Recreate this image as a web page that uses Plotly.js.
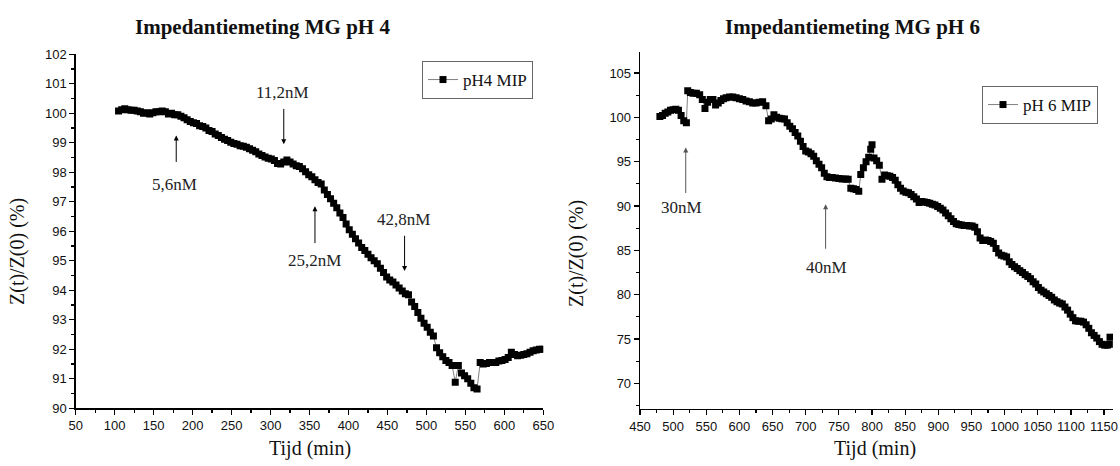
<!DOCTYPE html>
<html>
<head>
<meta charset="utf-8">
<script src="https://cdn.plot.ly/plotly-3.0.1.min.js"></script>
<style>html,body{margin:0;padding:0;background:#fff;}#chart{width:1120px;height:466px;}</style>
</head>
<body>
<div id="chart"></div>
<script>
// ---- Left chart: pH 4 ----
const timePH4 = [105,109,113,117,121,125,129,133,137,141,145,149,153,157,161,165,169,173,177,181,185,189,193,197,201,205,209,213,217,221,225,229,233,237,241,245,249,253,257,261,265,269,273,277,281,285,289,293,297,301,305,309,313,317,321,325,329,333,337,341,345,349,353,357,361,365,369,373,377,381,385,389,393,397,401,405,409,413,417,421,425,429,433,437,441,445,449,453,457,461,465,469,473,477,481,485,489,493,497,501,505,509,513,517,521,525,529,533,537,541,545,549,553,557,561,565,569,573,577,581,585,589,593,597,601,605,609,613,617,621,625,629,633,637,641,645,649];
const zPH4 = [100.08,100.12,100.15,100.12,100.1,100.1,100.08,100.05,100.0,100.02,99.98,100.02,100.05,100.05,100.08,100.05,99.98,100.0,99.95,99.95,99.9,99.85,99.78,99.72,99.68,99.65,99.58,99.55,99.5,99.42,99.38,99.3,99.25,99.18,99.12,99.08,99.02,98.98,98.95,98.9,98.88,98.85,98.8,98.75,98.7,98.62,98.57,98.52,98.48,98.45,98.4,98.3,98.28,98.35,98.42,98.35,98.28,98.22,98.2,98.12,98.02,97.92,97.85,97.75,97.65,97.6,97.4,97.25,97.1,96.95,96.8,96.62,96.47,96.25,96.05,95.9,95.75,95.6,95.45,95.35,95.22,95.1,95.0,94.9,94.75,94.6,94.45,94.35,94.28,94.18,94.08,93.98,93.88,93.85,93.6,93.45,93.25,93.05,92.88,92.75,92.58,92.45,92.05,91.88,91.75,91.62,91.55,91.45,90.88,91.45,91.2,91.1,91.0,90.85,90.7,90.65,91.55,91.5,91.52,91.55,91.55,91.55,91.6,91.62,91.65,91.72,91.9,91.82,91.78,91.8,91.82,91.85,91.9,91.95,91.98,92.0,92.0];

// ---- Right chart: pH 6 ----
const timePH6 = [480,484,488,492,496,500,504,508,512,516,520,522,526,530,535,540,544,548,552,556,560,564,568,572,576,580,585,590,595,600,605,610,615,620,625,630,635,640,644,648,652,656,660,664,668,672,676,680,684,688,692,696,700,704,708,712,716,720,724,728,732,736,740,745,750,755,760,764,768,772,776,780,783,787,791,795,798,800,803,807,811,815,819,823,827,831,835,839,843,847,851,855,859,863,867,871,875,879,883,887,891,895,899,903,907,911,915,919,923,927,931,935,939,943,947,951,955,959,963,967,971,975,979,983,987,991,995,999,1003,1007,1011,1015,1019,1023,1027,1031,1035,1039,1043,1047,1051,1055,1059,1063,1067,1071,1075,1079,1083,1087,1091,1095,1099,1103,1107,1111,1115,1119,1123,1127,1131,1135,1139,1143,1147,1151,1155,1158,1159];
const zPH6 = [100.1,100.2,100.45,100.6,100.8,100.85,100.9,100.8,100.2,99.6,99.4,103.0,102.8,102.7,102.7,102.55,102.0,101.0,101.7,102.0,102.0,101.4,101.6,101.9,102.1,102.2,102.3,102.3,102.2,102.1,102.0,101.85,101.75,101.6,101.6,101.7,101.75,101.3,99.6,99.8,100.3,100.0,99.9,99.85,99.8,99.4,99.0,98.7,98.3,97.9,97.3,96.7,96.2,96.1,95.9,95.6,95.1,94.7,94.3,93.7,93.3,93.2,93.2,93.15,93.1,93.05,93.05,93.0,92.0,91.95,91.85,91.65,93.55,94.3,95.0,95.5,96.4,96.9,95.4,95.1,94.6,93.0,93.5,93.4,93.35,93.2,92.9,92.4,92.0,91.7,91.55,91.5,91.3,91.05,90.8,90.4,90.5,90.45,90.4,90.3,90.2,90.1,89.95,89.75,89.55,89.2,88.9,88.55,88.25,88.0,87.9,87.85,87.8,87.8,87.75,87.75,87.6,87.1,86.4,86.1,86.15,86.1,86.0,85.8,85.2,84.7,84.45,84.35,84.25,83.7,83.4,83.15,82.95,82.7,82.5,82.25,82.05,81.8,81.45,81.2,80.8,80.5,80.3,80.1,79.9,79.7,79.4,79.2,79.05,78.95,78.6,78.25,77.8,77.4,77.05,77.0,77.0,76.9,76.6,76.2,75.7,75.4,75.1,74.7,74.4,74.3,74.3,74.4,75.2];

// ---- Texts ----
const titles = ["Impedantiemeting MG pH 4", "Impedantiemeting MG pH 6"];
const seriesNames = ["pH4 MIP", "pH 6 MIP"];
const xTitle = "Tijd (min)";
const yTitle = "Z(t)/Z(0) (%)";

// concentration markers: label, arrow x, arrow tip y, arrow tail y, label x, label y
const labelsPH4 = ["5,6nM", "11,2nM", "25,2nM", "42,8nM"];
const arrowXPH4 = [179, 317, 357, 472];
const arrowTipPH4 = [99.25, 98.95, 96.85, 94.65];
const arrowTailPH4 = [98.3, 100.2, 95.55, 95.9];
const labelXPH4 = [177, 315, 356, 471];
const labelYPH4 = [97.6, 100.72, 95.0, 96.4];

const labelsPH6 = ["30nM", "40nM"];
const arrowXPH6 = [519, 730];
const arrowTipPH6 = [96.6, 90.2];
const arrowTailPH6 = [91.3, 85.0];
const labelXPH6 = [512, 731];
const labelYPH6 = [89.8, 83.1];

const W = 1120, H = 466;
const px = v => v / W;
const py = v => 1 - v / H;

const serif = "Liberation Serif, Times New Roman, serif";
const sans = "Liberation Sans, Arial, sans-serif";

const traceStyle = {
  type: 'scatter', mode: 'lines+markers',
  line: {color: '#808080', width: 1},
  marker: {symbol: 'square', size: 7, color: '#000'}
};

const traces = [
  Object.assign({}, traceStyle, {x: timePH4, y: zPH4, name: seriesNames[0], xaxis: 'x', yaxis: 'y', legend: 'legend'}),
  Object.assign({}, traceStyle, {x: timePH6, y: zPH6, name: seriesNames[1], xaxis: 'x2', yaxis: 'y2', legend: 'legend2'})
];

const axisBase = {
  showline: true, linecolor: '#000', linewidth: 1.3,
  ticks: 'outside', ticklen: 5, tickwidth: 1.2, tickcolor: '#000',
  showgrid: false, zeroline: false,
  tickfont: {family: sans, size: 13, color: '#111'},
  fixedrange: true
};

const annotations = [];
function addArrows(labels, ax, tip, tail, lx, ly, xr, yr, col) {
  for (let i = 0; i < labels.length; i++) {
    annotations.push({
      x: ax[i], y: tip[i], ax: ax[i], ay: tail[i], xref: xr, yref: yr, axref: xr, ayref: yr,
      text: '', showarrow: true, arrowhead: 2, arrowsize: 1, arrowwidth: 1, arrowcolor: col
    });
    annotations.push({
      x: lx[i], y: ly[i], xref: xr, yref: yr, text: labels[i], showarrow: false,
      xanchor: 'center', yanchor: 'middle',
      font: {family: serif, size: 17, color: '#222'}
    });
  }
}
addArrows(labelsPH4, arrowXPH4, arrowTipPH4, arrowTailPH4, labelXPH4, labelYPH4, 'x', 'y', '#000');
addArrows(labelsPH6, arrowXPH6, arrowTipPH6, arrowTailPH6, labelXPH6, labelYPH6, 'x2', 'y2', '#555');

function paperText(x, y, text, size, extra) {
  annotations.push(Object.assign({
    xref: 'paper', yref: 'paper', x: px(x), y: py(y), text: text, showarrow: false,
    xanchor: 'center', yanchor: 'middle',
    font: {family: serif, size: size, color: '#111'}
  }, extra || {}));
}
// chart titles
paperText(262, 27, '<b>' + titles[0] + '</b>', 21);
paperText(852, 27, '<b>' + titles[1] + '</b>', 21);
// axis titles
paperText(310, 448, xTitle, 20);
paperText(875, 448, xTitle, 20);
paperText(17, 252, yTitle, 20, {textangle: -90});
paperText(576, 254, yTitle, 20, {textangle: -90});

const legendBase = {
  bgcolor: '#fff', bordercolor: '#666', borderwidth: 1,
  font: {family: serif, size: 17, color: '#111'},
  xanchor: 'right', yanchor: 'top', xref: 'paper', yref: 'paper',
  tracegroupgap: 0
};

const layout = {
  width: W, height: H,
  margin: {l: 0, r: 0, t: 0, b: 0},
  paper_bgcolor: '#fff', plot_bgcolor: '#fff',
  showlegend: true,
  legend: Object.assign({}, legendBase, {x: px(533), y: py(61)}),
  legend2: Object.assign({}, legendBase, {x: px(1098), y: py(86)}),
  xaxis: Object.assign({}, axisBase, {domain: [px(75.7), px(543.3)], range: [50, 650], dtick: 50, tick0: 50, anchor: 'y',
    minor: {ticks: 'outside', dtick: 25, ticklen: 3, tickcolor: '#000'}}),
  yaxis: Object.assign({}, axisBase, {domain: [py(408.3), py(54.3)], range: [90, 102], dtick: 1, tick0: 90, anchor: 'x',
    minor: {ticks: 'outside', dtick: 0.5, ticklen: 3, tickcolor: '#000'}}),
  xaxis2: Object.assign({}, axisBase, {domain: [px(640), px(1113)], range: [450, 1163.5], dtick: 50, tick0: 450, anchor: 'y2',
    minor: {ticks: 'outside', dtick: 25, ticklen: 3, tickcolor: '#000'}}),
  yaxis2: Object.assign({}, axisBase, {domain: [py(409), py(51.7)], range: [67.1, 107.4], dtick: 5, tick0: 70, anchor: 'x2',
    minor: {ticks: 'outside', dtick: 2.5, ticklen: 3, tickcolor: '#000'}}),
  annotations: annotations
};

Plotly.newPlot('chart', traces, layout, {staticPlot: true, displayModeBar: false});
</script>
</body>
</html>
